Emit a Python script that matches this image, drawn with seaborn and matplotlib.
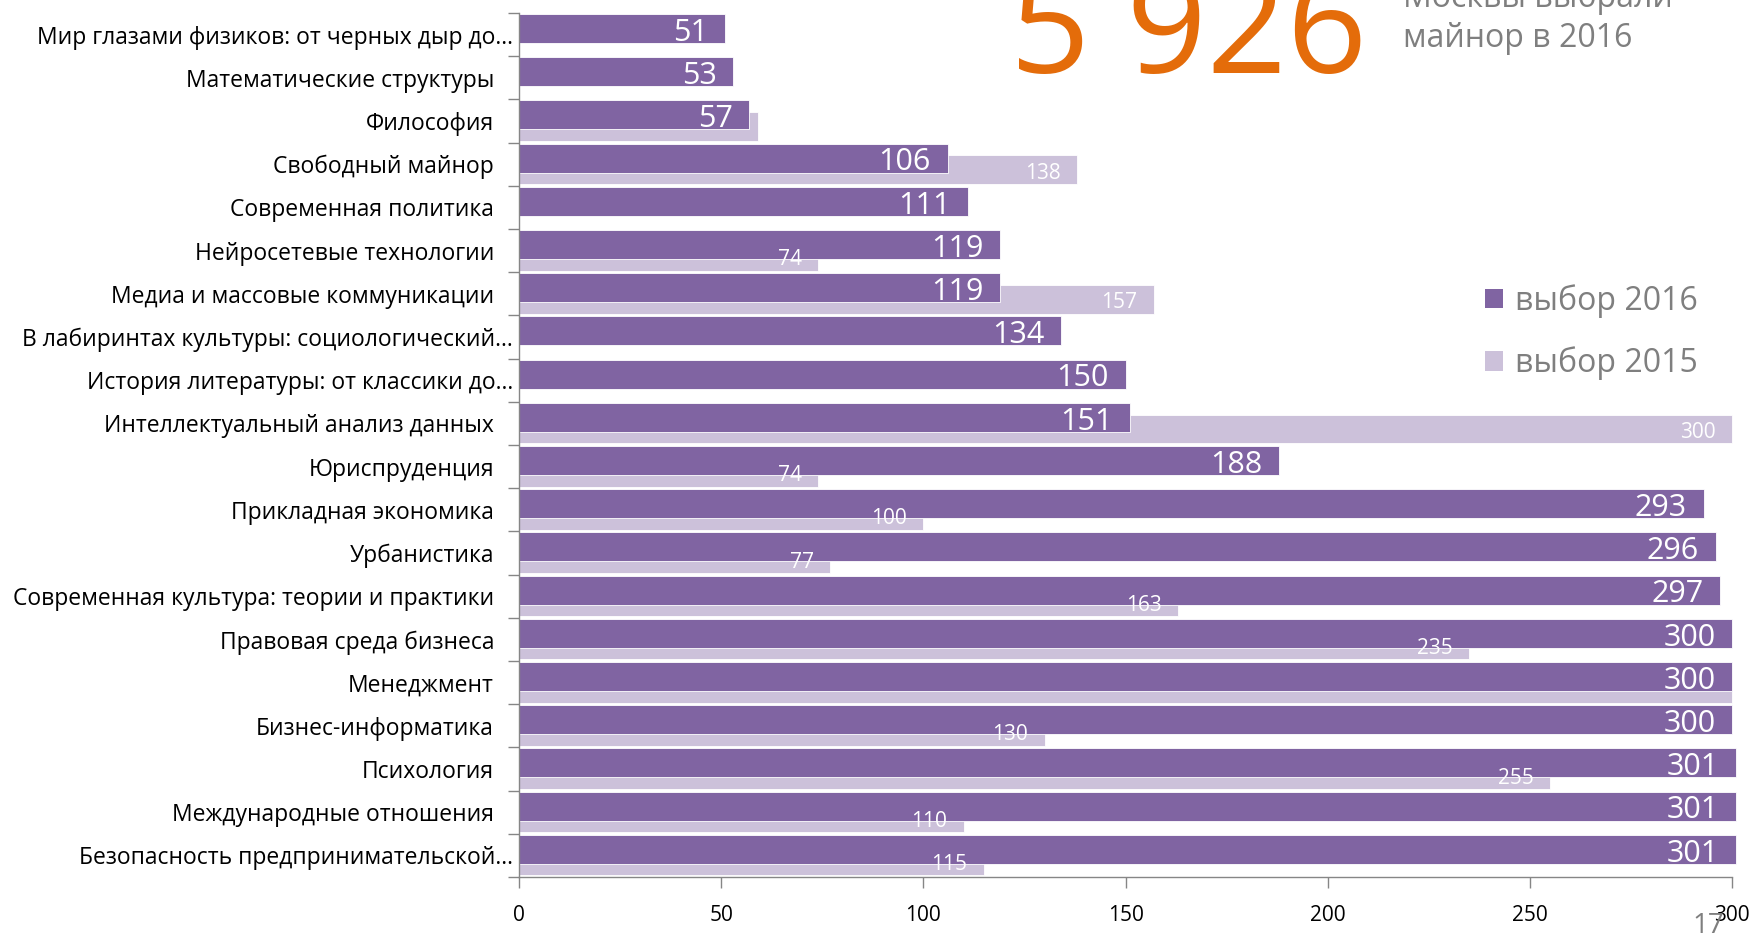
import numpy as np
import pandas as pd
import matplotlib
matplotlib.use("Agg")
import matplotlib.pyplot as plt
import matplotlib.transforms as mtrans
from matplotlib.patches import Patch
import seaborn as sns

# ---------------- data ----------------
categories = [
    "Мир глазами физиков: от черных дыр до…",
    "Математические структуры",
    "Философия",
    "Свободный майнор",
    "Современная политика",
    "Нейросетевые технологии",
    "Медиа и массовые коммуникации",
    "В лабиринтах культуры: социологический…",
    "История литературы: от классики до…",
    "Интеллектуальный анализ данных",
    "Юриспруденция",
    "Прикладная экономика",
    "Урбанистика",
    "Современная культура: теории и практики",
    "Правовая среда бизнеса",
    "Менеджмент",
    "Бизнес-информатика",
    "Психология",
    "Международные отношения",
    "Безопасность предпринимательской…",
]
values_2016 = [51, 53, 57, 106, 111, 119, 119, 134, 150, 151,
               188, 293, 296, 297, 300, 300, 300, 301, 301, 301]
values_2015 = [0, 0, 59, 138, 0, 74, 157, 0, 0, 300,
               74, 100, 77, 163, 235, 300, 130, 255, 110, 115]
show_label_2015 = [False, False, False, True, False, True, True, False, False, True,
                   True, True, True, True, True, False, True, True, True, True]
x_ticks = [0, 50, 100, 150, 200, 250, 300]
legend_labels = ["выбор 2016", "выбор 2015"]
big_number = "5 926"
side_text = ["Москвы выбрали", "майнор в 2016"]
page_number = "17"

# ---------------- style ----------------
sns.set_theme(style="white")
FONT = ["Open Sans", "DejaVu Sans"]
plt.rcParams["font.family"] = FONT

C16 = "#8064A2"
C15 = "#CCC1DA"
GRAY = "#868686"
TXTGRAY = "#7F7F7F"
ORANGE = "#E46C0A"

W, H = 1757, 933
fig = plt.figure(figsize=(W / 100, H / 100), dpi=100)
ax = fig.add_axes([519 / W, 1 - 877 / H, (1732 - 519) / W, (877 - 13) / H])

n = len(categories)
pos = np.arange(n)
off16, off15, bw = -0.14, 0.13, 0.67

df15 = pd.DataFrame({"val": values_2015, "pos": pos + off15})
df15 = df15[df15["val"] > 0]
df16 = pd.DataFrame({"val": values_2016, "pos": pos + off16})

sns.barplot(data=df15, x="val", y="pos", orient="h", native_scale=True,
            width=bw, color=C15, saturation=1, errorbar=None,
            edgecolor="white", linewidth=0.6, ax=ax)
sns.barplot(data=df16, x="val", y="pos", orient="h", native_scale=True,
            width=bw, color=C16, saturation=1, errorbar=None,
            edgecolor="white", linewidth=0.6, ax=ax)
for p in ax.patches:
    p.set_clip_on(False)

# value labels
for i, v in enumerate(values_2015):
    if v > 0 and show_label_2015[i]:
        ax.annotate(str(v), (v, i + off15), xytext=(-12, -2.5), textcoords="offset points",
                    ha="right", va="center", color="white", fontsize=15,
                    family=FONT, annotation_clip=False)
for i, v in enumerate(values_2016):
    ax.annotate(str(v), (v, i + off16), xytext=(-12, -3), textcoords="offset points",
                ha="right", va="center", color="white", fontsize=22,
                family=FONT, annotation_clip=False)

# axes
ax.set_xlim(0, 300)
ax.set_ylim(n - 0.5, -0.5)
ax.set_xticks(x_ticks)
ax.set_xticklabels([str(t) for t in x_ticks], fontsize=15, color="black")
ax.set_yticks(np.arange(-0.5, n, 1.0))
ax.set_yticklabels([])
ax.set_yticks(pos, labels=categories, minor=True)
ax.tick_params(axis="y", which="major", length=8, width=1, color=GRAY, direction="out", left=True)
ax.tick_params(axis="y", which="minor", length=0, pad=18, labelsize=16.5, labelcolor="black")
ax.tick_params(axis="x", which="major", length=8, width=1, color=GRAY, direction="out",
               bottom=True, pad=12)
for lab in ax.get_yticklabels(minor=True):
    if lab.get_text().endswith("…"):
        lab.set_transform(lab.get_transform() +
                          mtrans.ScaledTranslation(19 / 100, 0, fig.dpi_scale_trans))
ax.set_xlabel("")
ax.set_ylabel("")
for s in ["top", "right"]:
    ax.spines[s].set_visible(False)
for s in ["left", "bottom"]:
    ax.spines[s].set_color(GRAY)
    ax.spines[s].set_linewidth(1)
ax.grid(False)

# legend
handles = [Patch(facecolor=C16, edgecolor="none"), Patch(facecolor=C15, edgecolor="none")]
ax.legend(handles, legend_labels, loc="center left",
          bbox_to_anchor=(1485 / W, 1 - 332 / H), bbox_transform=fig.transFigure,
          frameon=False, fontsize=23, labelcolor=TXTGRAY, handlelength=0.55,
          handleheight=0.55, handletextpad=0.4, labelspacing=0.9,
          borderpad=0, borderaxespad=0)

# decorative texts
fig.text(1367 / W, 1 - 73 / H, big_number, ha="right", va="baseline",
         fontsize=101, color=ORANGE, family=FONT)
fig.text(1403 / W, 1 - 7 / H, side_text[0], ha="left", va="baseline",
         fontsize=23, color=TXTGRAY, family=FONT)
fig.text(1403 / W, 1 - 47 / H, side_text[1], ha="left", va="baseline",
         fontsize=23, color=TXTGRAY, family=FONT)
fig.text(1708 / W, 1 - 912 / H, page_number, ha="center", va="top",
         fontsize=20, color=TXTGRAY, family=FONT)

fig.savefig("out.png", dpi=100, facecolor="white")
